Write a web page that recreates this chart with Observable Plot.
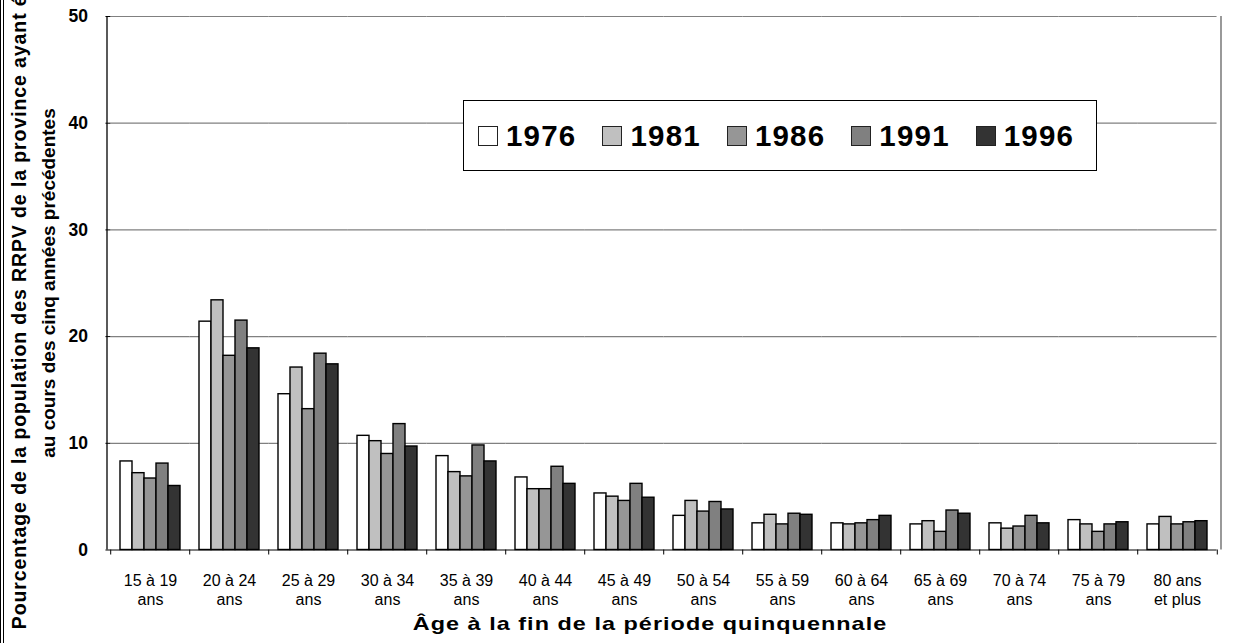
<!DOCTYPE html>
<html><head><meta charset="utf-8">
<script src="https://cdn.jsdelivr.net/npm/d3@7"></script>
<script src="https://cdn.jsdelivr.net/npm/@observablehq/plot@0.6"></script>
<style>
body{margin:0;background:#fff;font-family:"Liberation Sans",Arial,sans-serif;}
#wrap{position:relative;width:1233px;height:643px;overflow:hidden;background:#fff;}
#border{position:absolute;left:0;top:0;width:2px;height:643px;border-left:1px solid #000;border-right:1px solid #000;z-index:2;}
#legend{position:absolute;left:463px;top:100px;width:634px;height:71px;border:1.5px solid #000;background:#fff;display:flex;align-items:center;padding-left:14px;box-sizing:border-box;}
.item{display:flex;align-items:center;margin-right:26px;}
.sw{width:20px;height:20px;border:1.3px solid #222;box-sizing:border-box;margin-right:8px;}
.lab{font-weight:bold;font-size:29.5px;letter-spacing:1.2px;color:#000;}
</style></head>
<body><div id="wrap"><div id="border"></div></div>
<script>
const ageGroups = ["15 à 19 ans","20 à 24 ans","25 à 29 ans","30 à 34 ans","35 à 39 ans","40 à 44 ans","45 à 49 ans","50 à 54 ans","55 à 59 ans","60 à 64 ans","65 à 69 ans","70 à 74 ans","75 à 79 ans","80 ans et plus"];
const ageLabels = ["15 à 19\nans","20 à 24\nans","25 à 29\nans","30 à 34\nans","35 à 39\nans","40 à 44\nans","45 à 49\nans","50 à 54\nans","55 à 59\nans","60 à 64\nans","65 à 69\nans","70 à 74\nans","75 à 79\nans","80 ans\net plus"];
const years = ["1976","1981","1986","1991","1996"];
const colors = ["#ffffff","#c0c0c0","#969696","#808080","#333333"];
const v1976 = [8.3,21.4,14.6,10.7,8.8,6.8,5.3,3.2,2.5,2.5,2.4,2.5,2.8,2.4];
const v1981 = [7.2,23.4,17.1,10.2,7.3,5.7,5.0,4.6,3.3,2.4,2.7,2.0,2.4,3.1];
const v1986 = [6.7,18.2,13.2,9.0,6.9,5.7,4.6,3.6,2.4,2.5,1.7,2.2,1.7,2.4];
const v1991 = [8.1,21.5,18.4,11.8,9.8,7.8,6.2,4.5,3.4,2.8,3.7,3.2,2.4,2.6];
const v1996 = [6.0,18.9,17.4,9.7,8.3,6.2,4.9,3.8,3.3,3.2,3.4,2.5,2.6,2.7];
const yTicks = [0,10,20,30,40,50];
const gridVals = [10,20,30,40,50];
const yTitle1 = "Pourcentage de la population des RRPV de la province ayant émigré";
const yTitle2 = "au cours des cinq années précédentes";
const xTitle = "Âge à la fin de la période quinquennale";

const series = [v1976,v1981,v1986,v1991,v1996];
const data = [];
ageGroups.forEach((a,i)=>years.forEach((y,j)=>data.push({age:a,year:y,value:series[j][i]})));
const labelOf = new Map(ageGroups.map((a,i)=>[a,ageLabels[i]]));

const pInner = 0.24, pOuter = 0.12;
const step = (1233-107-12)/ageGroups.length;
const half = step*pInner/2;

const plot = Plot.plot({
  width:1233, height:643,
  marginLeft:107, marginRight:12, marginTop:16, marginBottom:93.5,
  style:{background:"#fff", fontFamily:"'Liberation Sans', Arial, sans-serif", color:"#000"},
  fx:{domain:ageGroups, paddingInner:pInner, paddingOuter:pOuter, axis:null, label:null},
  x:{domain:years, padding:0, axis:null},
  y:{domain:[0,50], axis:null},
  color:{domain:years, range:colors},
  marks:[
    Plot.ruleY(gridVals,{stroke:"#808080", strokeWidth:1.2, insetLeft:-half, insetRight:-half}),
    Plot.barY(data,{fx:"age", x:"year", y:"value", fill:"year", stroke:"#000", strokeWidth:1.4}),
    Plot.ruleY([0],{stroke:"#000", strokeWidth:1.2, insetLeft:-half, insetRight:-half}),
    Plot.axisY({ticks:yTicks, tickSize:5, tickPadding:18, dx:-step*pOuter, fontWeight:"bold", fontSize:17.5, label:null}),
    Plot.axisFx({anchor:"bottom", tickSize:0, tickPadding:22, tickFormat:d=>labelOf.get(d), fontSize:16, lineHeight:1.2, label:null, letterSpacing:"1px"}),
    Plot.axisFx({anchor:"bottom", tickSize:5, tickFormat:()=>"", dx:-step/2, label:null}),
    Plot.axisFx({anchor:"bottom", ticks:[ageGroups[ageGroups.length-1]], tickSize:5, tickFormat:()=>"", dx:step/2, label:null})
  ]
});
const wrap = document.getElementById("wrap");
wrap.appendChild(plot);
plot.style.position="absolute"; plot.style.left="0"; plot.style.top="0";

const svg = d3.select(plot);
svg.append("line").attr("x1",1221).attr("x2",1221).attr("y1",16).attr("y2",549.5).attr("stroke","#808080").attr("stroke-width",1.6);
svg.append("line").attr("x1",107).attr("x2",107).attr("y1",16).attr("y2",549.5).attr("stroke","#000").attr("stroke-width",1.3);
svg.append("text").attr("transform","translate(26,283) rotate(-90)").attr("text-anchor","middle")
  .attr("font-weight","bold").attr("font-size",19.5).attr("letter-spacing","0.9px").attr("fill","#000").text(yTitle1);
svg.append("text").attr("transform","translate(55,283) rotate(-90)").attr("text-anchor","middle")
  .attr("font-weight","bold").attr("font-size",19).attr("fill","#000").text(yTitle2);
svg.append("text").attr("transform","translate(650,630) scale(1.3,1)").attr("text-anchor","middle")
  .attr("font-weight","bold").attr("font-size",18).attr("letter-spacing","0.8px").attr("fill","#000").text(xTitle);

const legend = document.createElement("div");
legend.id="legend";
years.forEach((y,i)=>{
  const it=document.createElement("div"); it.className="item";
  const sw=document.createElement("div"); sw.className="sw"; sw.style.background=colors[i];
  const lb=document.createElement("span"); lb.className="lab"; lb.textContent=y;
  it.appendChild(sw); it.appendChild(lb); legend.appendChild(it);
});
wrap.appendChild(legend);
</script>
</body></html>
